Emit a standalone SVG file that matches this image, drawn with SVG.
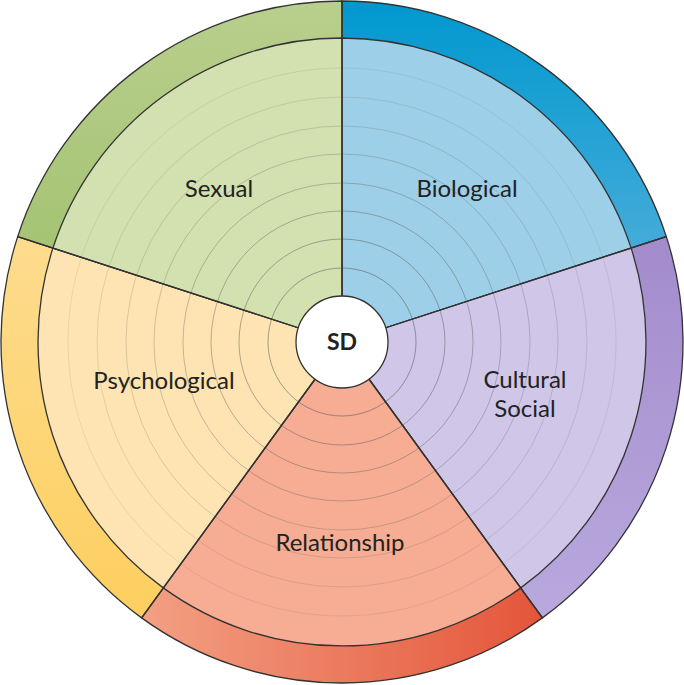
<svg xmlns="http://www.w3.org/2000/svg" width="684" height="685" viewBox="0 0 684 685">
<defs>
<linearGradient id="gB" x1="0" y1="0" x2="0" y2="1"><stop offset="0" stop-color="#0098cf"/><stop offset="1" stop-color="#5fb3dd"/></linearGradient>
<linearGradient id="gP" x1="0" y1="0" x2="0" y2="1"><stop offset="0" stop-color="#a38bcc"/><stop offset="1" stop-color="#b9a9de"/></linearGradient>
<linearGradient id="gR" x1="1" y1="0" x2="0" y2="0"><stop offset="0" stop-color="#e4553a"/><stop offset="1" stop-color="#f3a083"/></linearGradient>
<linearGradient id="gY" x1="0" y1="0" x2="0" y2="1"><stop offset="0" stop-color="#fddc8e"/><stop offset="1" stop-color="#fdcf5f"/></linearGradient>
<linearGradient id="gG" x1="0" y1="0" x2="0" y2="1"><stop offset="0" stop-color="#b9cf8d"/><stop offset="1" stop-color="#9dbf69"/></linearGradient>
<style>
.seg{stroke:#333;stroke-width:1.3}
.ring{fill:none;stroke:#555;stroke-width:0.8}
.lbl{font-family:"Lato","Liberation Sans",sans-serif;font-size:24px;fill:#222;text-anchor:middle}
</style>
</defs>
<g id="ring-outer">
<path class="seg" fill="url(#gB)" d="M342,342 L342,1 A341,341 0 0 1 666.3,236.6 Z"/>
<path class="seg" fill="url(#gP)" d="M342,342 L666.3,236.6 A341,341 0 0 1 542.4,617.9 Z"/>
<path class="seg" fill="url(#gR)" d="M342,342 L542.4,617.9 A341,341 0 0 1 141.6,617.9 Z"/>
<path class="seg" fill="url(#gY)" d="M342,342 L141.6,617.9 A341,341 0 0 1 17.7,236.6 Z"/>
<path class="seg" fill="url(#gG)" d="M342,342 L17.7,236.6 A341,341 0 0 1 342,1 Z"/>
</g>
<g id="biological"><path class="seg" fill="#9ecfe8" d="M342,342 L342,38 A304,304 0 0 1 631.1,248.1 Z"/></g>
<g id="cultural"><path class="seg" fill="#cfc6e8" d="M342,342 L631.1,248.1 A304,304 0 0 1 520.7,587.9 Z"/></g>
<g id="relationship"><path class="seg" fill="#f6ad93" d="M342,342 L520.7,587.9 A304,304 0 0 1 163.3,587.9 Z"/></g>
<g id="psychological"><path class="seg" fill="#fde4b2" d="M342,342 L163.3,587.9 A304,304 0 0 1 52.9,248.1 Z"/></g>
<g id="sexual"><path class="seg" fill="#d3e0b0" d="M342,342 L52.9,248.1 A304,304 0 0 1 342,38 Z"/></g>
<g id="rings">
<circle class="ring" cx="342" cy="342" r="274" stroke-opacity="0.15"/>
<circle class="ring" cx="342" cy="342" r="245" stroke-opacity="0.2"/>
<circle class="ring" cx="342" cy="342" r="216" stroke-opacity="0.27"/>
<circle class="ring" cx="342" cy="342" r="188" stroke-opacity="0.34"/>
<circle class="ring" cx="342" cy="342" r="159" stroke-opacity="0.42"/>
<circle class="ring" cx="342" cy="342" r="131" stroke-opacity="0.5"/>
<circle class="ring" cx="342" cy="342" r="103" stroke-opacity="0.58"/>
<circle class="ring" cx="342" cy="342" r="74" stroke-opacity="0.66"/>
</g>
<g id="connectors"><path fill="none" stroke="#333" stroke-width="1.3" d="M342,1 V342 M342,342 L666.3,236.6 M342,342 L542.4,617.9 M342,342 L141.6,617.9 M342,342 L17.7,236.6"/></g>
<g id="sd"><circle cx="342" cy="342" r="46" fill="#fff" stroke="#333" stroke-width="1.3"/>
<text x="342" y="350" style="font-family:'Lato','Liberation Sans',sans-serif;font-size:23px;font-weight:bold;fill:#222;text-anchor:middle">SD</text></g>
<text class="lbl" x="219" y="197">Sexual</text>
<text class="lbl" x="467" y="197">Biological</text>
<text class="lbl" x="164" y="389">Psychological</text>
<text class="lbl" x="525" y="388">Cultural</text>
<text class="lbl" x="525" y="417">Social</text>
<text class="lbl" x="340" y="551">Relationship</text>
</svg>
